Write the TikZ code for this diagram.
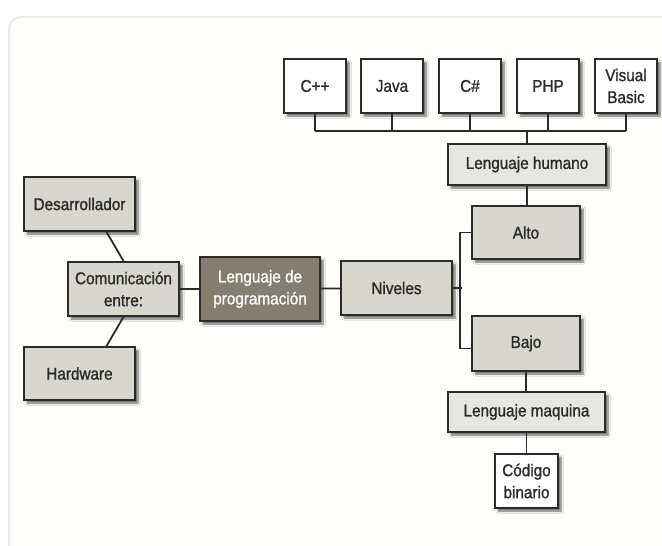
\documentclass[tikz,border=0pt]{standalone}
\usepackage{fontspec}
\setmainfont{Liberation Sans}[FakeStretch=0.9, FakeBold=1.2]
\usetikzlibrary{shadows.blur}
\definecolor{boxgray}{HTML}{D9D6CE}
\definecolor{boxlight}{HTML}{E8E6E1}
\definecolor{boxdark}{HTML}{857D70}
\definecolor{ink}{HTML}{2B2B2B}
\tikzset{
  base/.style={draw=ink, line width=1.9pt, text=ink, align=center, inner sep=2pt,
    font=\fontsize{17}{22}\selectfont,
    blur shadow={shadow xshift=3pt, shadow yshift=-3pt, shadow opacity=60, shadow blur steps=6}},
  graybox/.style={base, fill=boxgray},
  lightbox/.style={base, fill=boxlight},
  whitebox/.style={base, fill=white},
  darkbox/.style={base, fill=boxdark, text=white!92!boxgray},
  link/.style={draw=ink, line width=1.8pt}
}
\begin{document}
\begin{tikzpicture}[x=1pt, y=-1pt]
\useasboundingbox (0,0) rectangle (662,546);
% Panel
\fill[white] (0,0) rectangle (662,546);
\draw[black!8, line width=2pt, fill=white!99!yellow, rounded corners=12pt] (9,17) rectangle (720,600);

% Left part
\node[graybox, minimum width=111pt, minimum height=54pt] (desa) at (79.5,204) {Desarrollador};
\node[graybox, minimum width=111pt, minimum height=54pt] (com) at (123.5,289) {Comunicación\\entre:};
\node[graybox, minimum width=111pt, minimum height=53pt] (hard) at (79.5,373.5) {Hardware};
\node[darkbox, minimum width=120pt, minimum height=64pt] (ldp) at (260,289) {Lenguaje de\\programación};
\node[graybox, minimum width=111pt, minimum height=54pt] (niveles) at (396.5,288) {Niveles};

% Right part
\node[graybox, minimum width=108pt, minimum height=53pt] (alto) at (526,232.5) {Alto};
\node[graybox, minimum width=108pt, minimum height=55pt] (bajo) at (526,343.5) {Bajo};
\node[lightbox, minimum width=158pt, minimum height=41pt] (lh) at (527,164.5) {Lenguaje humano};
\node[lightbox, minimum width=157pt, minimum height=40pt] (lm) at (526.5,412) {Lenguaje maquina};
\node[whitebox, minimum width=63pt, minimum height=54pt] (cb) at (526.5,481) {Código\\binario};

% Languages
\node[whitebox, minimum width=62pt, minimum height=54pt] (cpp) at (315,86) {C++};
\node[whitebox, minimum width=62pt, minimum height=54pt] (java) at (392,86) {Java};
\node[whitebox, minimum width=62pt, minimum height=54pt] (csharp) at (470,86) {C\#};
\node[whitebox, minimum width=62pt, minimum height=54pt] (php) at (548,86) {PHP};
\node[whitebox, minimum width=62pt, minimum height=54pt] (vb) at (626,86) {Visual\\Basic};
\coordinate (bus) at (527,131);

% Connectors
\draw[link] ([xshift=27pt]desa.south) -- (com.north);
\draw[link] (com.south) -- ([xshift=27pt]hard.north);
\draw[link] (com) -- (ldp);
\draw[link] (ldp) -- (niveles);
\draw[link] (niveles.east) -- ++(9,0);
\draw[link] (alto.west) -- ++(-11,0) |- ([yshift=-5pt]bajo.west);
\foreach \n in {cpp,java,csharp,php,vb}
  \draw[link] (\n.south) -- (\n.south |- bus);
\draw[link] (cpp.south |- bus) -- (vb.south |- bus);
\draw[link] (bus) -- (lh.north);
\draw[link] (lh.south) -- (lh.south |- alto.north);
\draw[link] (bajo.south) -- (bajo.south |- lm.north);
\draw[link] (lm.south) -- (lm.south |- cb.north);
\end{tikzpicture}
\end{document}
